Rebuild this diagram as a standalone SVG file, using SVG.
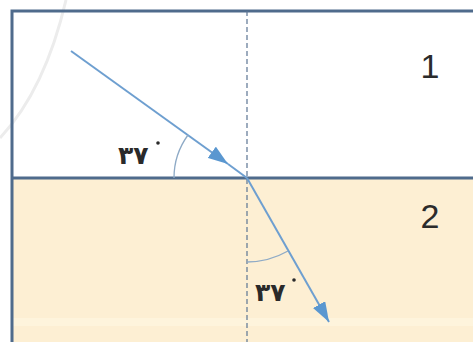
<svg xmlns="http://www.w3.org/2000/svg" width="473" height="342" viewBox="0 0 473 342">
<style>
.border{stroke:#4f6b8c;stroke-width:3;fill:none}
.ray{stroke:#6e9fd0;stroke-width:2;fill:none}
.arc{stroke:#8eaac6;stroke-width:1.3;fill:none}
.normal{stroke:#5c7593;stroke-width:1.2;stroke-dasharray:5,3;fill:none}
.lbl{font-family:"DejaVu Sans",sans-serif;font-weight:bold;font-size:25px;fill:#2a2a2a}
.num{font-family:"Liberation Sans",Arial,sans-serif;font-size:34px;fill:#2b2b2b}
</style>
<defs>
<marker id="ah" viewBox="0 0 20 14" refX="20" refY="7" markerWidth="20" markerHeight="14" markerUnits="userSpaceOnUse" orient="auto">
<path d="M0,0 L20,7 L0,14 z" fill="#5a97d0"/>
</marker>
</defs>
<rect width="473" height="342" fill="#ffffff"/>
<g id="medium2">
<rect x="12" y="178" width="461" height="164" fill="#fdefd3"/>
<rect x="12" y="318" width="461" height="8" fill="#fef4dc"/>
</g>
<path d="M66,0 Q45,90 0,138" stroke="#ececec" stroke-width="3" fill="none"/>
<g id="boundary">
<path class="border" d="M12,342 V11 H473"/>
<path class="border" d="M12,178 H473"/>
</g>
<g id="connectors">
<path class="normal" d="M247,11 V342"/>
<path class="ray" d="M71,51 L228,164" marker-end="url(#ah)"/>
<path class="ray" d="M228,164 L247,178"/>
<path class="ray" d="M247,178 L329,322" marker-end="url(#ah)"/>
<path class="arc" d="M174,178 A73,73 0 0 1 188,135"/>
<path class="arc" d="M247,262 A84,84 0 0 0 288,251"/>
</g>
<g id="label1"><text class="num" x="430" y="78" text-anchor="middle">1</text></g>
<g id="label2"><text class="num" x="430" y="228" text-anchor="middle">2</text></g>
<g id="angle1"><text class="lbl" x="118" y="164">۳۷</text><circle cx="158" cy="143" r="1.8" fill="#2a2a2a"/></g>
<g id="angle2"><text class="lbl" x="255" y="301">۳۷</text><circle cx="294" cy="280" r="1.8" fill="#2a2a2a"/></g>
</svg>
